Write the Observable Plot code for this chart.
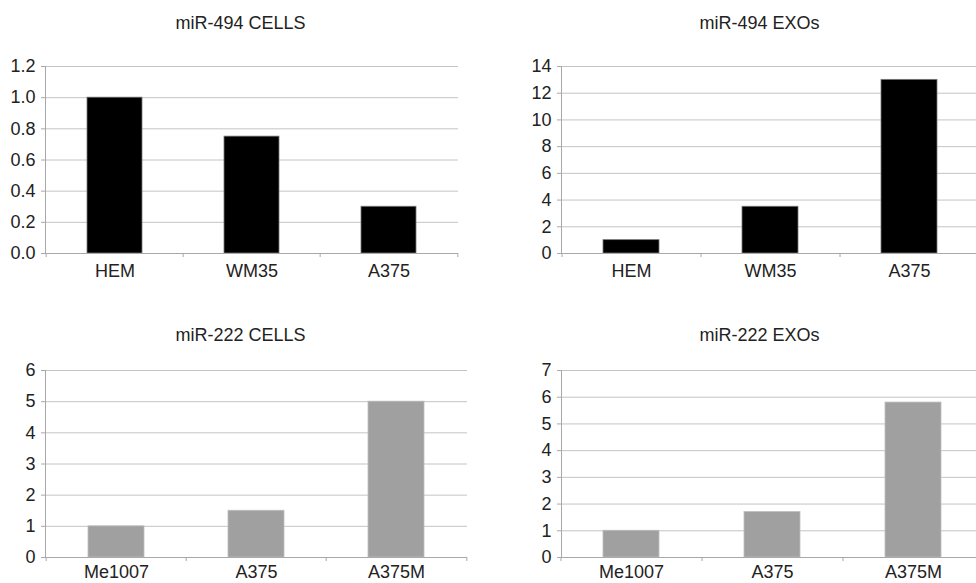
<!DOCTYPE html>
<html>
<head>
<meta charset="utf-8">
<script src="https://cdn.jsdelivr.net/npm/d3@7"></script>
<script src="https://cdn.jsdelivr.net/npm/@observablehq/plot@0.6"></script>
<style>
  html, body { margin: 0; padding: 0; background: #fff; overflow: hidden; }
  #wrap { position: relative; width: 976px; height: 583px; overflow: hidden; background: #fff; }
  .panel { position: absolute; }
</style>
</head>
<body>
<div id="wrap"></div>
<script>
// ---- Data ----
const cells494Categories = ["HEM", "WM35", "A375"];
const cells494Values = [1.0, 0.75, 0.30];
const cells494Ticks = [0, 0.2, 0.4, 0.6, 0.8, 1.0, 1.2];

const exos494Categories = ["HEM", "WM35", "A375"];
const exos494Values = [1.0, 3.5, 13.0];
const exos494Ticks = [0, 2, 4, 6, 8, 10, 12, 14];

const cells222Categories = ["Me1007", "A375", "A375M"];
const cells222Values = [1.0, 1.5, 5.0];
const cells222Ticks = [0, 1, 2, 3, 4, 5, 6];

const exos222Categories = ["Me1007", "A375", "A375M"];
const exos222Values = [1.0, 1.7, 5.8];
const exos222Ticks = [0, 1, 2, 3, 4, 5, 6, 7];

const panelTitles = ["miR-494 CELLS", "miR-494 EXOs", "miR-222 CELLS", "miR-222 EXOs"];

// ---- Layout / style config ----
const FONT = "'Liberation Sans', Arial, Helvetica, sans-serif";
const panels = [
  {title: panelTitles[0], cats: cells494Categories, vals: cells494Values, ticks: cells494Ticks, fmt: d3.format(".1f"),
   left: 0, top: 0, width: 488, height: 290, mL: 45, mR: 30, mT: 66, mB: 37, fill: "#000", stroke: "#777", titleX: 240, titleDy: -38, xPad: 11},
  {title: panelTitles[1], cats: exos494Categories, vals: exos494Values, ticks: exos494Ticks, fmt: d3.format("d"),
   left: 488, top: 0, width: 490, height: 290, mL: 73, mR: 0, mT: 66, mB: 37, fill: "#000", stroke: "#777", titleX: 271, titleDy: -38, xPad: 11},
  {title: panelTitles[2], cats: cells222Categories, vals: cells222Values, ticks: cells222Ticks, fmt: d3.format("d"),
   left: 0, top: 290, width: 488, height: 293, mL: 45, mR: 21, mT: 80, mB: 26, fill: "#a0a0a0", stroke: "#bdbdbd", titleX: 240, titleDy: -30, xPad: 8},
  {title: panelTitles[3], cats: exos222Categories, vals: exos222Values, ticks: exos222Ticks, fmt: d3.format("d"),
   left: 488, top: 290, width: 496, height: 293, mL: 73, mR: 0, mT: 80, mB: 26, fill: "#a0a0a0", stroke: "#bdbdbd", titleX: 271, titleDy: -30, xPad: 8}
];

const wrap = document.getElementById("wrap");

for (const p of panels) {
  const data = p.cats.map((c, i) => ({cat: c, value: p.vals[i]}));
  const step = (p.width - p.mL - p.mR) / p.cats.length;
  const last = p.cats[p.cats.length - 1];
  const yMax = p.ticks[p.ticks.length - 1];

  const chart = Plot.plot({
    width: p.width,
    height: p.height,
    marginLeft: p.mL,
    marginRight: p.mR,
    marginTop: p.mT,
    marginBottom: p.mB,
    style: {fontFamily: FONT, fontSize: "18px", color: "#222", background: "transparent", overflow: "visible"},
    x: {domain: p.cats, paddingInner: 0.6, paddingOuter: 0.3, label: null},
    y: {domain: [0, yMax], label: null},
    marks: [
      Plot.ruleY(p.ticks.filter(t => t !== 0), {stroke: "#c4c4c4", strokeWidth: 1}),
      Plot.barY(data, {x: "cat", y: "value", fill: p.fill, stroke: p.stroke, strokeWidth: 0.8}),
      Plot.ruleY([0], {stroke: "#a8a8a8", strokeWidth: 1}),
      Plot.frame({anchor: "left", stroke: "#a8a8a8", strokeWidth: 1}),
      Plot.ruleX(p.cats, {x: d => d, y1: 0, y2: 0, dx: -step / 2, insetBottom: -4, stroke: "#a8a8a8"}),
      Plot.ruleX([last], {x: d => d, y1: 0, y2: 0, dx: step / 2, insetBottom: -4, stroke: "#a8a8a8"}),
      Plot.axisY({ticks: p.ticks, tickFormat: p.fmt, tickSize: 4, tickPadding: 6, stroke: "#a8a8a8", fill: "#222", fontSize: 18}),
      Plot.axisX({tickSize: 0, tickPadding: p.xPad, fill: "#222", fontSize: 18}),
      Plot.text([p.title], {frameAnchor: "top-left", dx: p.titleX - p.mL, dy: p.titleDy, text: d => d,
        textAnchor: "middle", lineAnchor: "bottom", fontSize: 18, fill: "#222"})
    ]
  });
  chart.classList.add("panel");
  chart.style.left = p.left + "px";
  chart.style.top = p.top + "px";
  wrap.appendChild(chart);
}
</script>
</body>
</html>
